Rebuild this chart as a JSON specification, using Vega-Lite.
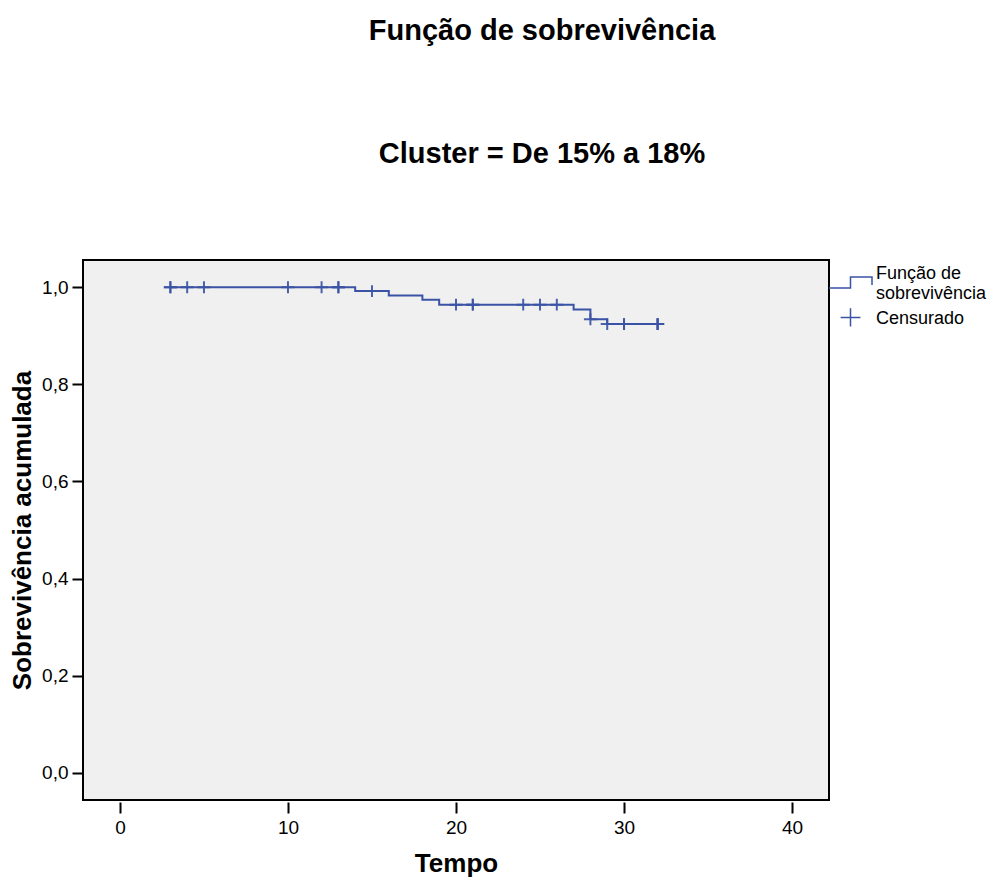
{
  "$schema": "https://vega.github.io/schema/vega-lite/v6.json",
  "autosize": {"type": "none"},
  "width": 746,
  "height": 540,
  "padding": {"left": 83, "top": 260, "right": 171, "bottom": 80},
  "background": "white",
  "config": {
    "font": "Liberation Sans",
    "view": {"fill": "#f0f0f0", "stroke": "black", "strokeWidth": 2}
  },
  "title": {
    "text": ["Função de sobrevivência", "Cluster = De 15% a 18%"],
    "font": "Liberation Sans",
    "fontSize": 29,
    "fontWeight": "bold",
    "color": "black",
    "lineHeight": 123,
    "anchor": "middle",
    "dx": 86,
    "baseline": "alphabetic",
    "offset": 68
  },
  "datasets": {
    "steps": [
      {"t": 3, "s": 1.0},
      {"t": 14, "s": 0.992},
      {"t": 16, "s": 0.983},
      {"t": 18, "s": 0.974},
      {"t": 19, "s": 0.964},
      {"t": 27, "s": 0.954},
      {"t": 28, "s": 0.934},
      {"t": 29, "s": 0.924},
      {"t": 32, "s": 0.924}
    ],
    "censored": [
      {"t": 3, "s": 1.0, "series": "Censurado"},
      {"t": 3, "s": 1.0, "series": "Censurado"},
      {"t": 4, "s": 1.0, "series": "Censurado"},
      {"t": 5, "s": 1.0, "series": "Censurado"},
      {"t": 10, "s": 1.0, "series": "Censurado"},
      {"t": 12, "s": 1.0, "series": "Censurado"},
      {"t": 13, "s": 1.0, "series": "Censurado"},
      {"t": 13, "s": 1.0, "series": "Censurado"},
      {"t": 15, "s": 0.992, "series": "Censurado"},
      {"t": 20, "s": 0.964, "series": "Censurado"},
      {"t": 21, "s": 0.964, "series": "Censurado"},
      {"t": 21, "s": 0.964, "series": "Censurado"},
      {"t": 24, "s": 0.964, "series": "Censurado"},
      {"t": 25, "s": 0.964, "series": "Censurado"},
      {"t": 26, "s": 0.964, "series": "Censurado"},
      {"t": 28, "s": 0.934, "series": "Censurado"},
      {"t": 29, "s": 0.924, "series": "Censurado"},
      {"t": 30, "s": 0.924, "series": "Censurado"},
      {"t": 30, "s": 0.924, "series": "Censurado"},
      {"t": 32, "s": 0.924, "series": "Censurado"},
      {"t": 32, "s": 0.924, "series": "Censurado"},
      {"t": 32, "s": 0.924, "series": "Censurado"}
    ]
  },
  "encoding": {
    "x": {
      "field": "t",
      "type": "quantitative",
      "scale": {"domain": [-2.2, 42.2], "nice": false, "zero": false},
      "axis": {
        "title": "Tempo",
        "values": [0, 10, 20, 30, 40],
        "domain": false,
        "grid": false,
        "ticks": true,
        "tickSize": 11,
        "tickWidth": 2,
        "tickColor": "black",
        "offset": 2,
        "labelPadding": 5,
        "labelFontSize": 19,
        "labelColor": "black",
        "labelFont": "Liberation Sans",
        "titleFont": "Liberation Sans",
        "titleFontSize": 26,
        "titleFontWeight": "bold",
        "titleColor": "black",
        "titleBaseline": "alphabetic",
        "titleY": 69
      }
    },
    "y": {
      "field": "s",
      "type": "quantitative",
      "scale": {"domain": [-0.056, 1.056], "nice": false, "zero": false},
      "axis": {
        "title": "Sobrevivência acumulada",
        "values": [0, 0.2, 0.4, 0.6, 0.8, 1.0],
        "labelExpr": "replace(format(datum.value, '.1f'), '.', ',')",
        "domain": false,
        "grid": false,
        "ticks": true,
        "tickSize": 11,
        "tickWidth": 2,
        "tickColor": "black",
        "labelPadding": 4,
        "labelFontSize": 19,
        "labelColor": "black",
        "labelFont": "Liberation Sans",
        "titleFont": "Liberation Sans",
        "titleFontSize": 26,
        "titleFontWeight": "bold",
        "titleColor": "black",
        "titleAngle": 270,
        "titleBaseline": "alphabetic",
        "titleX": -53
      }
    }
  },
  "layer": [
    {
      "data": {"name": "steps"},
      "mark": {"type": "line", "interpolate": "step-after", "color": "#3a53a4", "strokeWidth": 2}
    },
    {
      "data": {"name": "censored"},
      "mark": {"type": "point", "filled": false, "stroke": "#3a53a4", "strokeWidth": 2, "size": 800, "opacity": 0.9, "shape": "M-0.46,0H0.46M0,-0.42V0.42"}
    },
    {
      "data": {"name": "censored"},
      "transform": [{"filter": "false"}],
      "mark": {"type": "point", "filled": false, "stroke": "#3a53a4", "strokeWidth": 2},
      "encoding": {
        "shape": {
          "field": "series",
          "type": "nominal",
          "scale": {
            "domain": ["Função de sobrevivência", "Censurado"],
            "range": ["M-1,0.26H0V-0.26H1V0.12", "M-0.46,-0.47H0.46M0,-0.89V-0.05"]
          },
          "legend": {
            "title": null,
            "orient": "right",
            "offset": -1,
            "padding": 0,
            "symbolSize": 1850,
            "symbolStrokeColor": "#3a53a4",
            "symbolFillColor": "transparent",
            "symbolStrokeWidth": 1.5,
            "symbolOpacity": 1,
            "labelFont": "Liberation Sans",
            "labelFontSize": 18,
            "labelColor": "black",
            "labelLimit": 300,
            "labelOffset": 3,
            "labelBaseline": "bottom",
            "labelExpr": "datum.label == 'Função de sobrevivência' ? ['Função de', 'sobrevivência'] : datum.label",
            "rowPadding": 2
          }
        }
      }
    }
  ]
}
